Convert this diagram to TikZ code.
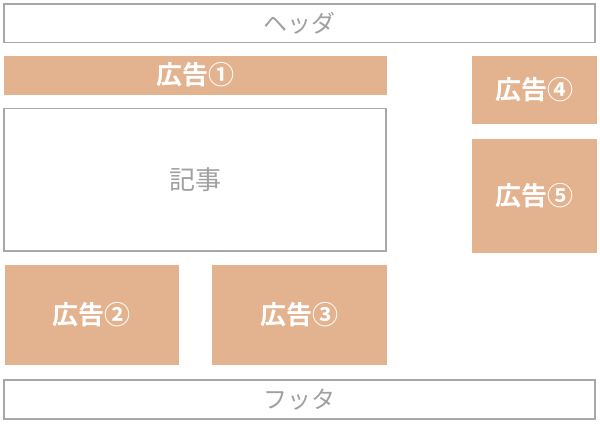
\documentclass[tikz,border=0pt]{standalone}
\usepackage{fontspec}
\setmainfont{Noto Sans CJK JP}[BoldFont={Noto Sans CJK JP Bold}]
\definecolor{adfill}{HTML}{E3B28F}
\definecolor{frame}{HTML}{A8A8A8}
\definecolor{txt}{HTML}{A0A0A0}
\tikzset{
  wbox/.style={draw=frame, line width=1.5pt, fill=white, text=txt, font=\fontsize{24}{24}\selectfont},
  adbox/.style={fill=adfill, draw=none, text=white, font=\fontsize{26}{26}\selectfont\bfseries},
}
\begin{document}
\begin{tikzpicture}[x=1pt,y=-1pt]
\useasboundingbox (0,0) rectangle (600,424);
\path[wbox] (4,4) rectangle (595,42.5) node[midway] (header) {ヘッダ};
\path[adbox] (4,55.5) rectangle (387,94.5) node[midway] (ad1) {広告①};
\path[wbox] (4,108.5) rectangle (386,251) node[midway] (article) {\fontsize{26}{26}\selectfont 記事};
\path[adbox] (472,55.5) rectangle (597,123.5) node[midway] (ad4) {広告④};
\path[adbox] (472,138.5) rectangle (597,252.5) node[midway] (ad5) {広告⑤};
\path[adbox] (4.5,264.5) rectangle (179,365) node[midway] (ad2) {広告②};
\path[adbox] (212,264.5) rectangle (386.5,365) node[midway] (ad3) {広告③};
\path[wbox] (4,380) rectangle (595,419) node[midway] (footer) {フッタ};
\end{tikzpicture}
\end{document}
